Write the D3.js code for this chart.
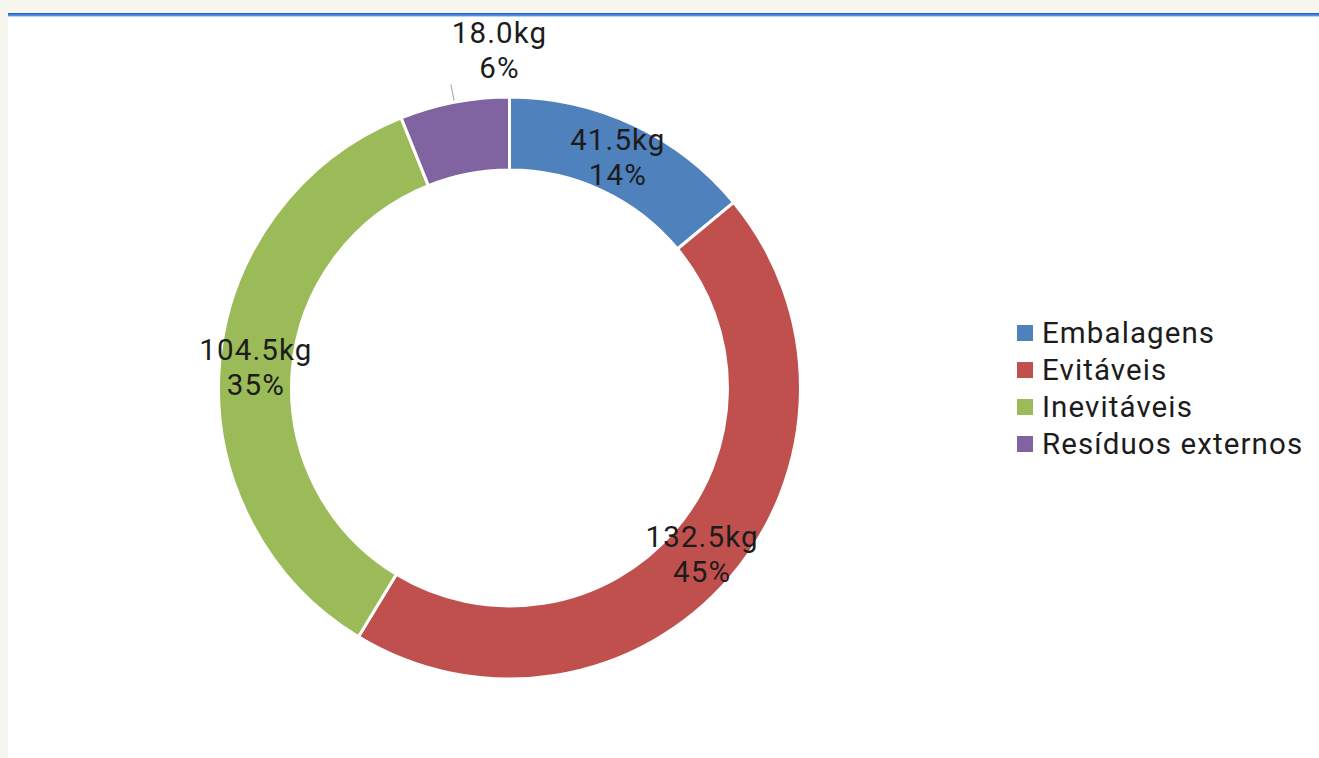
<!DOCTYPE html>
<html>
<head>
<meta charset="utf-8">
<script src="https://cdn.jsdelivr.net/npm/d3@7"></script>
<style>
  html, body { margin: 0; padding: 0; background: #f6f6ef; }
  svg { display: block; }
</style>
</head>
<body>
<svg id="chart" width="1319" height="758"></svg>
<script>
const categories = ["Embalagens", "Evitáveis", "Inevitáveis", "Resíduos externos"];
const values = [41.5, 132.5, 104.5, 18.0];
const percentLabels = ["14%", "45%", "35%", "6%"];
const colors = ["#4f81bd", "#c0504d", "#9bbb59", "#8064a2"];

const W = 1319, H = 758;
const svg = d3.select("#chart");

// page background pieces
svg.append("rect").attr("x", 0).attr("y", 0).attr("width", W).attr("height", H).attr("fill", "#f6f6ef");
svg.append("rect").attr("x", 8).attr("y", 16).attr("width", W - 8).attr("height", H - 16).attr("fill", "#ffffff");
const grad = svg.append("defs").append("linearGradient").attr("id", "topline").attr("x1", 0).attr("y1", 0).attr("x2", 0).attr("y2", 1);
grad.append("stop").attr("offset", "0%").attr("stop-color", "#1a5cc4");
grad.append("stop").attr("offset", "100%").attr("stop-color", "#6ea6ec");
svg.append("rect").attr("x", 8).attr("y", 13).attr("width", W - 8).attr("height", 3.5).attr("fill", "url(#topline)");

const cx = 509.5, cy = 388;
const outerR = 291, innerR = 218;
const font = "Roboto, 'Noto Sans', sans-serif";
const fontSize = 29.5;
const letterSp = 1.1;
const textColor = "#1c1c1c";

const data = categories.map((c, i) => ({ name: c, value: values[i], pct: percentLabels[i], color: colors[i] }));

const pie = d3.pie().value(d => d.value).sort(null);
const arcs = pie(data);
const arc = d3.arc().innerRadius(innerR).outerRadius(outerR);

const g = svg.append("g").attr("transform", `translate(${cx},${cy})`);

g.selectAll("path.slice")
  .data(arcs)
  .enter().append("path")
  .attr("class", "slice")
  .attr("d", arc)
  .attr("fill", d => d.data.color)
  .attr("stroke", "#ffffff")
  .attr("stroke-width", 3);

const midR = (innerR + outerR) / 2;
const lineH = 35;

arcs.forEach((d, i) => {
  const a = (d.startAngle + d.endAngle) / 2;
  const small = (d.endAngle - d.startAngle) < 0.5;
  let x, y;
  if (small) {
    // outside label with short leader line
    const r1 = outerR + 2, r2 = outerR + 18;
    g.append("line")
      .attr("x1", Math.sin(a) * r1).attr("y1", -Math.cos(a) * r1)
      .attr("x2", Math.sin(a) * r2).attr("y2", -Math.cos(a) * r2)
      .attr("stroke", "#b0b0b0").attr("stroke-width", 1.2);
    x = -10;
    y = -outerR - 47;
  } else {
    x = Math.sin(a) * midR;
    y = -Math.cos(a) * midR;
  }
  const t = g.append("text")
    .attr("x", x).attr("y", y)
    .attr("text-anchor", "middle")
    .attr("font-family", font)
    .attr("font-size", fontSize)
    .attr("letter-spacing", letterSp)
    .attr("fill", textColor);
  t.append("tspan").attr("x", x).attr("dy", -lineH / 2 + 10).text(d.data.value.toFixed(1) + "kg");
  t.append("tspan").attr("x", x).attr("dy", lineH).text(d.data.pct);
});

// legend
const legend = svg.append("g").attr("transform", "translate(1017,333)");
const rowH = 37;
const items = legend.selectAll("g.item").data(data).enter().append("g")
  .attr("class", "item")
  .attr("transform", (d, i) => `translate(0,${i * rowH})`);
items.append("rect").attr("x", 0).attr("y", -8).attr("width", 16).attr("height", 16).attr("fill", d => d.color);
items.append("text").attr("x", 25).attr("y", 10)
  .attr("font-family", font).attr("font-size", fontSize).attr("letter-spacing", letterSp).attr("fill", textColor)
  .text(d => d.name);
</script>
</body>
</html>
